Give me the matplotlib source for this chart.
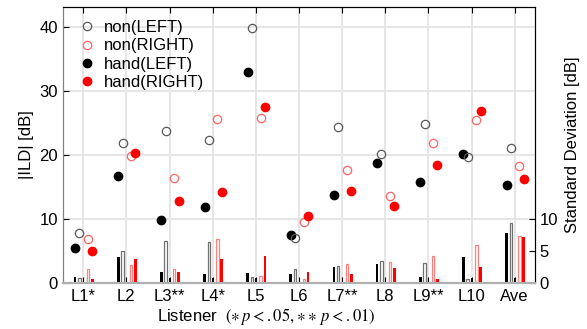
import numpy as np
import matplotlib
matplotlib.use("Agg")
from matplotlib import pyplot as plt

plt.rcParams['font.family'] = ['Liberation Sans', 'DejaVu Sans']
plt.rcParams['mathtext.fontset'] = 'stix'

listeners = ["L1*", "L2", "L3**", "L4*", "L5", "L6", "L7**", "L8", "L9**", "L10", "Ave"]

# |ILD| means [dB]
non_left = [7.8, 21.8, 23.75, 22.4, 39.75, 7.0, 24.3, 20.2, 24.8, 19.75, 21.15]
non_right = [6.9, 19.8, 16.4, 25.6, 25.8, 9.6, 17.6, 13.6, 21.8, 25.4, 18.2]
hand_left = [5.4, 16.7, 9.9, 11.8, 33.0, 7.5, 13.7, 18.75, 15.7, 20.1, 15.3]
hand_right = [4.95, 20.3, 12.8, 14.2, 27.5, 10.5, 14.3, 12.1, 18.5, 26.8, 16.2]

# standard deviations [dB]
sd_hand_left = [0.94, 4.06, 1.72, 1.46, 1.62, 1.46, 2.45, 2.92, 0.89, 4.02, 7.8]
sd_non_left = [0.78, 4.95, 6.56, 6.36, 0.94, 2.25, 2.7, 3.44, 3.18, 0.68, 9.44]
sd_non_right = [2.25, 2.77, 2.25, 6.94, 1.15, 0.68, 3.03, 3.28, 4.22, 6.0, 7.3]
sd_hand_right = [0.58, 3.7, 1.72, 3.7, 4.22, 1.67, 1.36, 2.3, 0.58, 2.45, 7.2]
sd_center = [0.75] * 11

x = np.arange(1, len(listeners) + 1)
fs = 12

fig = plt.figure(figsize=(5.87, 3.29), dpi=100)
ax = fig.add_axes([0.1073, 0.1398, 0.8041, 0.8389])
ax2 = ax.twinx()

ylim = (0, 43.1)

# vertical / horizontal grid
ax.set_xticks(x)
ax.set_xticklabels(listeners, fontsize=fs)
ax.set_yticks([0, 10, 20, 30, 40])
ax.tick_params(axis='y', labelsize=fs)
ax.grid(True, color='#e4e4e4', linewidth=1.3)
ax.set_axisbelow(True)

gray = '#5a5a5a'
pink = '#ff6464'
ax.plot(x - 0.19, hand_left, 'o', ms=6, color='black', label='hand(LEFT)', zorder=3)
ax.plot(x - 0.09, non_left, 'o', ms=6, mfc='none', mec=gray, mew=0.9, label='non(LEFT)', zorder=3)
ax.plot(x + 0.11, non_right, 'o', ms=6, mfc='none', mec=pink, mew=0.9, label='non(RIGHT)', zorder=3)
ax.plot(x + 0.21, hand_right, 'o', ms=6, color='red', label='hand(RIGHT)', zorder=3)

handles, labels = ax.get_legend_handles_labels()
order = [1, 2, 0, 3]
ax.legend([handles[i] for i in order], [labels[i] for i in order],
          loc='upper left', bbox_to_anchor=(0.0, 0.995), frameon=False,
          fontsize=fs, handletextpad=0.25, labelspacing=0.2, borderaxespad=0.3,
          handlelength=1.5)

# SD bars on right axis
w = 0.065
ax2.bar(x - 0.19, sd_hand_left, w, color='black', linewidth=0)
ax2.bar(x - 0.09, sd_non_left, w * 0.85, color='white', edgecolor='#707070', linewidth=0.9)
ax2.bar(x, sd_center, 0.02, color='black', linewidth=0)
ax2.bar(x + 0.11, sd_non_right, w * 0.85, color='white', edgecolor='#ff8080', linewidth=0.9)
ax2.bar(x + 0.21, sd_hand_right, w, color='red', linewidth=0)

for a in (ax, ax2):
    a.set_xlim(0.53, 11.47)
    a.set_ylim(*ylim)
    a.tick_params(direction='in', length=4)

ax.tick_params(axis='x', top=True, bottom=True, direction='in', pad=4)
ax2.set_yticks([0, 5, 10])
ax2.tick_params(axis='y', labelsize=fs)

ax.set_ylabel('|ILD| [dB]', fontsize=fs, labelpad=4)
ax2.set_ylabel('Standard Deviation [dB]', fontsize=fs, labelpad=5)
ax.set_xlabel(r'Listener  $(\ast\, p<.05,\!\ast\!\ast\, p<.01)$', fontsize=fs)
ax.xaxis.set_label_coords(0.43, -0.083)

for a in (ax, ax2):
    a.spines['left'].set_color('#808080')
    a.spines['bottom'].set_color('#b0b0b0')
    a.spines['bottom'].set_linewidth(1.5)
    a.spines['top'].set_color('black')
    a.spines['right'].set_color('black')

fig.savefig('out.png', dpi=100)
